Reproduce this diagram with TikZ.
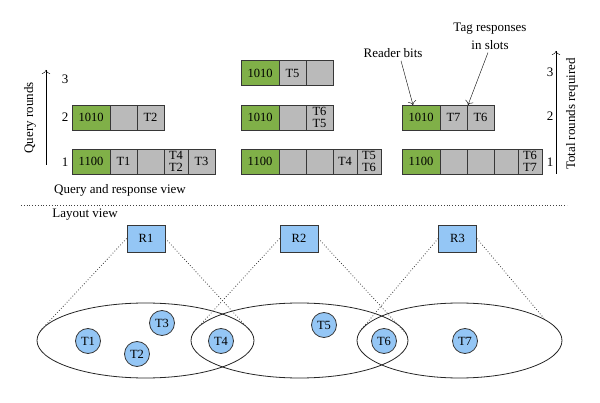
\documentclass[tikz,border=0pt]{standalone}
\usepackage{fontspec}
\setmainfont{Liberation Serif}
\usetikzlibrary{positioning,shapes.geometric,arrows.meta}
\definecolor{BitGreen}{RGB}{128,176,72}
\definecolor{SlotGray}{RGB}{186,186,186}
\definecolor{TagBlue}{RGB}{148,198,245}
\definecolor{EdgeGray}{RGB}{55,55,55}
\tikzset{
  box/.style={draw=EdgeGray,line width=0.8pt,minimum height=25pt,inner sep=0pt,outer sep=0pt,
    font=\fontsize{12.5}{11.5}\selectfont,align=center},
  bits/.style={box,fill=BitGreen,minimum width=38pt},
  slot/.style={box,fill=SlotGray,minimum width=27pt},
  slim/.style={box,fill=SlotGray,minimum width=24pt},
  reader/.style={draw=EdgeGray,fill=TagBlue,line width=0.8pt,minimum width=38pt,minimum height=27pt,
    inner sep=0pt,font=\fontsize{12.5}{14}\selectfont},
  tag/.style={circle,draw=EdgeGray,fill=TagBlue,line width=0.8pt,minimum size=25pt,inner sep=0pt,
    font=\fontsize{12.5}{14}\selectfont},
  zone/.style={ellipse,draw=black!85,line width=0.8pt,minimum height=75pt,inner sep=0pt},
  reach/.style={draw=black!75,dotted,line width=0.8pt},
  lbl/.style={font=\fontsize{13}{15}\selectfont,inner sep=0pt},
}

\begin{document}
\begin{tikzpicture}[x=1pt,y=-1pt]
\useasboundingbox (0,0) rectangle (600,403);
\foreach \name/\x/\y/\code/\cells in {
  La1/91/161.5/1100/{slot/T1,slot/{},slim/{T4\\T2},slot/T3},
  La2/91/117.5/1010/{slot/{},slot/T2},
  Ma1/260/161.5/1100/{slot/{},slot/{},slim/T4,slim/{T5\\T6}},
  Ma2/260/117.5/1010/{slot/{},slot/{T6\\T5}},
  Ma3/260/73/1010/{slot/T5,slot/{}},
  Ra1/421/161.5/1100/{slot/{},slot/{},slim/{},slim/{T6\\T7}},
  Ra2/421/117.5/1010/{slot/T7,slot/T6}} {
\node[bits] (\name-0) at (\x,\y) {\code};
\foreach \kind/\txt [count=\k, remember=\k as \j (initially 0)] in \cells
  \node[\kind,right=0pt of \name-\j] (\name-\k) {\txt};
}
\foreach \r/\y in {1/162,2/117,3/79} \node[lbl] (ql\r) at (65,\y) {\r};
\foreach \r/\y in {1/162,2/116,3/72} \node[lbl] (tl\r) at (550,\y) {\r};
\coordinate (qa0) at (46,165); \coordinate (qa1) at (46,70);
\draw[-{To[length=4pt]}] (qa0) -- (qa1);
\coordinate (ta0) at (556,174); \coordinate (ta1) at (556,51);
\draw[-{To[length=4pt]}] (ta0) -- (ta1);
\node[lbl,rotate=90] (qr) at (30,118) {Query rounds};
\node[lbl,rotate=90] (tr) at (572,114) {Total rounds required};
\node[lbl] (rb) at (393,53) {Reader bits};
\node[lbl,align=center,font=\fontsize{13}{18}\selectfont] (ts) at (490,36) {Tag responses\\in slots};
\draw[-{To[length=4pt]}] ([xshift=8pt,yshift=-3pt]rb.south) -- ([xshift=-8pt]Ra2-0.north);
\draw[-{To[length=4pt]}] ([xshift=-2pt,yshift=-3pt]ts.south) -- ([xshift=1pt]Ra2-2.north west);
\node[lbl] (qv) at (120,190) {Query and response view};
\coordinate (d0) at (21,205); \coordinate (d1) at (567,205);
\draw[reach] (d0) -- (d1);
\node[lbl] (lv) at (85,215) {Layout view};
\node[zone,minimum width=217pt] (E1) at (145.5,340.5) {};
\node[zone,minimum width=217pt] (E2) at (299.5,340.5) {};
\node[zone,minimum width=205pt] (E3) at (459.5,340.5) {};
\node[reader] (R1) at (146,238.5) {R1};
\node[reader] (R2) at (299,238.5) {R2};
\node[reader] (R3) at (457.5,238.5) {R3};
\foreach \t/\x/\y in {1/88/341,2/137/354,3/162/323,4/221/341,5/324/325,6/384/341,7/465/341}
  \node[tag] (T\t) at (\x,\y) {T\t};
\draw[reach] (R1.west) -- (E1.175);
\draw[reach] (R1.east) -- (E1.4);
\draw[reach] (R2.west) -- (E2.176);
\draw[reach] (R2.east) -- (E2.3);
\draw[reach] (R3.west) -- (E3.175);
\draw[reach] (R3.east) -- (E3.14);
\end{tikzpicture}
\end{document}
